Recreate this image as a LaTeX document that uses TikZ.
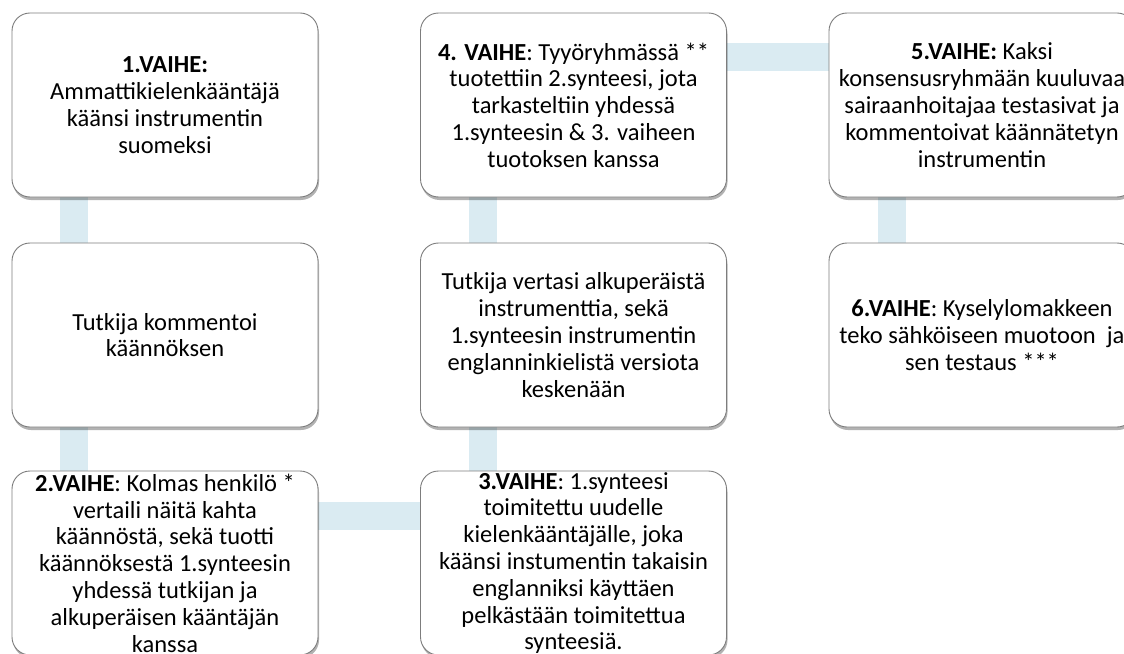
\documentclass[tikz,border=0pt]{standalone}
\usepackage{fontspec}
\setmainfont{Carlito}
\usetikzlibrary{shadows,backgrounds}
\definecolor{barblue}{RGB}{218,235,242}
\definecolor{boxline}{RGB}{125,125,125}
\begin{document}
\begin{tikzpicture}[x=1bp,y=-1bp,
  stage/.style={draw=boxline, line width=0.9bp, fill=white, rounded corners=18bp,
    minimum width=306bp, minimum height=184bp, align=center, inner sep=0pt,
    font=\fontsize{24.5bp}{26.8bp}\selectfont,
    drop shadow={shadow xshift=1bp, shadow yshift=-3bp, opacity=0.3, fill=black}},
  bar/.style={line width=28bp, draw=barblue}]
\useasboundingbox (0,0) rectangle (1124,654);
% nodes
\node[stage] (s1) at (165,105) {\textbf{1.VAIHE:}\\Ammattikielenkääntäjä\\käänsi instrumentin\\suomeksi};
\node[stage] (k1) at (165,335) {Tutkija kommentoi\\käännöksen};
\node[stage] (s2) at (165,563) {\textbf{2.VAIHE}: Kolmas henkilö *\\vertaili näitä kahta\\käännöstä, sekä tuotti\\käännöksestä 1.synteesin\\yhdessä tutkijan ja\\alkuperäisen kääntäjän\\kanssa};
\node[stage] (s3) at (573.5,563) {\textbf{3.VAIHE}: 1.synteesi\\toimitettu uudelle\\kielenkääntäjälle, joka\\käänsi instumentin takaisin\\englanniksi käyttäen\\pelkästään toimitettua\\synteesiä.};
\node[stage] (k2) at (573.5,335) {Tutkija vertasi alkuperäistä\\instrumenttia, sekä\\1.synteesin instrumentin\\englanninkielistä versiota\\keskenään};
\node[stage] (s4) at (573.5,105) {\textbf{4. VAIHE}: Tyyöryhmässä **\\tuotettiin 2.synteesi, jota\\tarkasteltiin yhdessä\\1.synteesin \& 3. vaiheen\\tuotoksen kanssa};
\node[stage] (s5) at (982,105) {\textbf{5.VAIHE:} Kaksi\\konsensusryhmään kuuluvaa\\sairaanhoitajaa testasivat ja\\kommentoivat käännätetyn\\instrumentin};
\node[stage] (s6) at (982,335) {\textbf{6.VAIHE}: Kyselylomakkeen\\teko sähköiseen muotoon\ \ ja\\sen testaus ***};
% connectors (behind boxes)
\begin{pgfonlayer}{background}
\draw[bar] ([xshift=62bp]s1.south west) -- ([xshift=62bp]k1.north west);
\draw[bar] ([xshift=62bp]k1.south west) -- ([xshift=62bp]s2.north west);
\draw[bar] ([yshift=-45.5bp]s2.north east) -- ([yshift=-45.5bp]s3.north west);
\draw[bar] ([xshift=63bp]s3.north west) -- ([xshift=63bp]k2.south west);
\draw[bar] ([xshift=63bp]k2.north west) -- ([xshift=63bp]s4.south west);
\draw[bar] ([yshift=-44.5bp]s4.north east) -- ([yshift=-44.5bp]s5.north west);
\draw[bar] ([xshift=63.5bp]s5.south west) -- ([xshift=63.5bp]s6.north west);
\end{pgfonlayer}
\end{tikzpicture}
\end{document}
